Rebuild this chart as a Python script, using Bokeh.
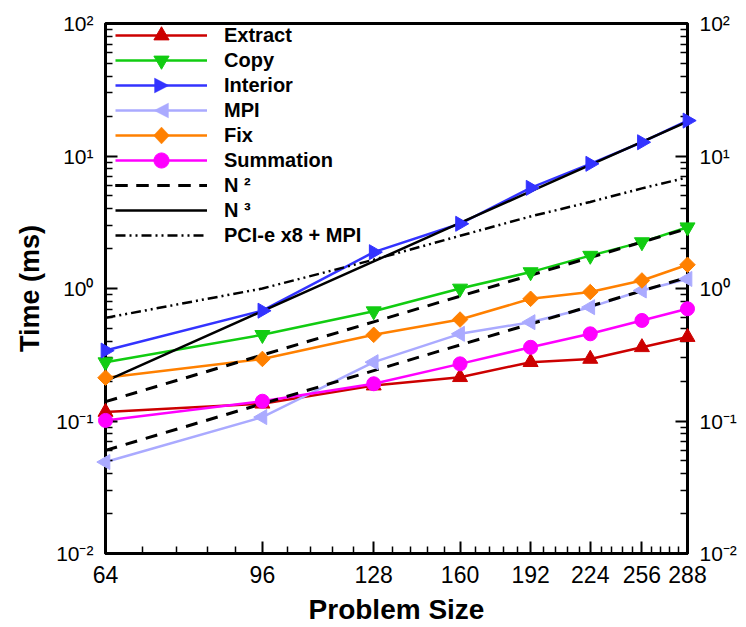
import math
from bokeh.plotting import figure
from bokeh.models import FixedTicker, LogAxis, Legend, LegendItem, PolyAnnotation
from bokeh.embed import file_html
from bokeh.resources import INLINE

# ---------------- data ----------------
sizes = [64, 96, 128, 160, 192, 224, 256, 288]
x_tick_labels = ["64", "96", "128", "160", "192", "224", "256", "288"]
y_ticks = [0.01, 0.1, 1, 10, 100]
y_tick_labels = ["10\u207b\u00b2", "10\u207b\u00b9", "10\u2070", "10\u00b9", "10\u00b2"]

extract = [0.117, 0.135, 0.185, 0.214, 0.278, 0.294, 0.36, 0.43]
copy_ = [0.278, 0.447, 0.674, 1.0, 1.33, 1.77, 2.24, 2.9]
interior = [0.34, 0.68, 1.88, 3.08, 5.75, 8.73, 12.7, 18.5]
mpi = [0.049, 0.107, 0.278, 0.455, 0.557, 0.723, 0.966, 1.18]
fix = [0.212, 0.294, 0.447, 0.583, 0.836, 0.94, 1.15, 1.51]
summation = [0.101, 0.141, 0.191, 0.27, 0.36, 0.455, 0.574, 0.703]
n2_upper = [0.14, 0.315, 0.56, 0.875, 1.26, 1.715, 2.24, 2.835]
n2_lower = [0.06, 0.135, 0.24, 0.375, 0.54, 0.735, 0.96, 1.215]
n3 = [0.2, 0.675, 1.6, 3.125, 5.4, 8.575, 12.8, 18.2]
pcie = [0.6, 1.0, 1.65, 2.5, 3.5, 4.5, 5.7, 6.9]

# ---------------- figure ----------------
FONT = "Liberation Sans"
p = figure(width=746, height=627, x_axis_type="log", y_axis_type="log",
           x_range=(64, 288), y_range=(0.01, 100),
           output_backend="svg", toolbar_location=None,
           min_border_left=105, min_border_right=59,
           min_border_top=23, min_border_bottom=74)
p.xgrid.visible = False
p.ygrid.visible = False
p.outline_line_color = "black"
p.outline_line_width = 3
p.background_fill_color = "white"
p.border_fill_color = "white"

x_minor = [64 + 6.4 * k for k in range(1, 35) if k % 5 != 0]
y_minor = [m * 10.0 ** e for e in range(-2, 2) for m in range(2, 10)]

xt = FixedTicker(ticks=sizes, minor_ticks=x_minor)
yt = FixedTicker(ticks=y_ticks, minor_ticks=y_minor)

xa = p.xaxis[0]
xa.ticker = xt
xa.major_label_overrides = {v: s for v, s in zip(sizes, x_tick_labels)}
xa.axis_label = "Problem Size"

ya = p.yaxis[0]
ya.ticker = yt
ya.major_label_overrides = {v: s for v, s in zip(y_ticks, y_tick_labels)}
ya.axis_label = "Time (ms)"

ya2 = LogAxis(ticker=yt, major_label_overrides={v: s for v, s in zip(y_ticks, y_tick_labels)})
p.add_layout(ya2, "right")

for ax in [xa, ya, ya2]:
    ax.axis_line_width = 3
    ax.axis_line_color = "black"
    ax.major_tick_in = 12
    ax.major_tick_out = 0
    ax.minor_tick_in = 7
    ax.minor_tick_out = 0
    ax.major_tick_line_width = 2
    ax.minor_tick_line_width = 1.5
    ax.major_tick_line_color = "black"
    ax.minor_tick_line_color = "black"
    ax.major_label_text_color = "black"

for ax in [ya, ya2]:
    ax.major_label_text_font = FONT
    ax.major_label_text_font_size = "21px"
    ax.major_label_standoff = 12

xa.major_label_text_font = FONT
xa.major_label_text_font_size = "23px"
xa.major_label_standoff = 12

for ax in [xa, ya]:
    ax.axis_label_text_font = FONT
    ax.axis_label_text_font_style = "bold"
    ax.axis_label_text_color = "black"
xa.axis_label_text_font_size = "28px"
xa.axis_label_standoff = 8
ya.axis_label_text_font_size = "27px"
ya.axis_label_standoff = 8

# ---------------- series ----------------
series = [
    ("Extract", extract, "#cc0000", "triangle", 0.0, 15),
    ("Copy", copy_, "#11cc11", "inverted_triangle", 0.0, 15),
    ("Interior", interior, "#3333ff", "triangle", -math.pi / 2, 15),
    ("MPI", mpi, "#aaaaff", "triangle", math.pi / 2, 15),
    ("Fix", fix, "#ff8000", "square", math.pi / 4, 11),
    ("Summation", summation, "#ff00ff", "circle", 0.0, 14),
]
# legend markers whose rotation the legend cannot show are drawn separately
rotated = {"Interior", "MPI", "Fix"}

items = []
colors = {}
for name, ys, col, mk, ang, sz in series:
    colors[name] = col
    lr = p.line(sizes, ys, line_color=col, line_width=2.5)
    sr = p.scatter(sizes, ys, marker=mk, angle=ang, size=sz,
                   fill_color=col, line_color=col, level="overlay")
    items.append(LegendItem(label=name, renderers=[lr] if name in rotated else [lr, sr]))

l1 = p.line(sizes, n2_upper, line_color="black", line_width=3, line_dash="12 9")
l2 = p.line(sizes, n2_lower, line_color="black", line_width=3, line_dash="12 9")
items.append(LegendItem(label="N \u00b2", renderers=[l1, l2]))
l3 = p.line(sizes, n3, line_color="black", line_width=2.5)
items.append(LegendItem(label="N \u00b3", renderers=[l3]))
l4 = p.line(sizes, pcie, line_color="black", line_width=2.5, line_dash="10 4 2 4 2 4")
items.append(LegendItem(label="PCI-e x8 + MPI", renderers=[l4]))


def make_legend(its, loc):
    lg = Legend(items=its, location=loc)
    lg.background_fill_alpha = 0
    lg.border_line_alpha = 0
    lg.padding = 2
    lg.margin = 0
    lg.spacing = 12
    lg.glyph_width = 92
    lg.glyph_height = 38
    lg.label_height = 22
    lg.label_standoff = 17
    lg.label_text_font = FONT
    lg.label_text_font_style = "bold"
    lg.label_text_font_size = "20px"
    lg.label_text_color = "black"
    lg.level = "overlay"
    return lg


# two interleaved legends (odd / even rows) so that the markers keep their size
p.add_layout(make_legend(items[0::2], (8, 297)), "center")
p.add_layout(make_legend(items[1::2], (8, 322)), "center")

# legend marker shapes (screen units, relative to the plot frame)
cx = 56
row_y = {"Interior": 468, "MPI": 443, "Fix": 418}
shapes = {
    "Interior": ([-7, -7, 7.5], [7.5, -7.5, 0]),
    "MPI": ([7, 7, -7.5], [7.5, -7.5, 0]),
    "Fix": ([0, 8, 0, -8], [8.5, 0, -8.5, 0]),
}
for name, (dx, dy) in shapes.items():
    cy = row_y[name]
    p.add_layout(PolyAnnotation(xs=[cx + a for a in dx], ys=[cy + b for b in dy],
                                xs_units="screen", ys_units="screen",
                                fill_color=colors[name], fill_alpha=1.0,
                                line_color=colors[name], line_width=1,
                                level="overlay"))

open("out.html", "w").write(file_html(p, INLINE))
